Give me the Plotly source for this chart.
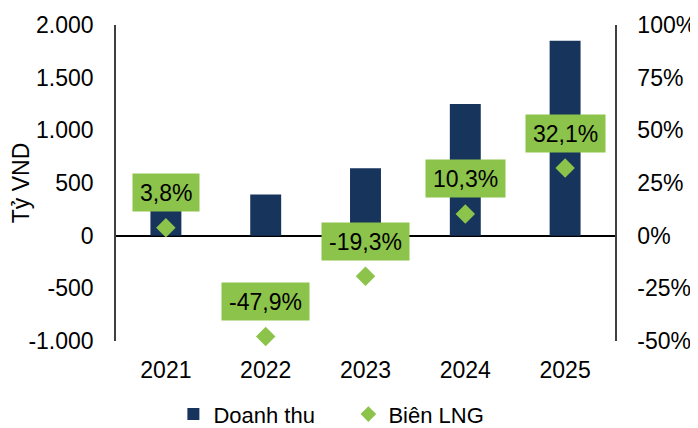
import plotly.graph_objects as go

# data
years = ["2021", "2022", "2023", "2024", "2025"]
revenue = [240, 390, 640, 1250, 1850]          # Tỷ VND
net_margin = [3.8, -47.9, -19.3, 10.3, 32.1]   # %

left_ticks = [-1000, -500, 0, 500, 1000, 1500, 2000]
left_labels = ["-1.000", "-500", "0", "500", "1.000", "1.500", "2.000"]
right_ticks = [-50, -25, 0, 25, 50, 75, 100]
right_labels = ["-50%", "-25%", "0%", "25%", "50%", "75%", "100%"]

NAVY = "#17345C"
GREEN = "#8CC34B"
FONT = "Liberation Sans, Arial, sans-serif"

# category positions on the x axis
pos = list(range(len(years)))

fig = go.Figure()

fig.add_trace(go.Bar(
    x=pos, y=revenue, name="Doanh thu",
    marker=dict(color=NAVY, line=dict(width=0)),
    width=0.31,
))

fig.add_trace(go.Scatter(
    x=pos, y=net_margin, name="Biên LNG", yaxis="y2",
    mode="markers", cliponaxis=False,
    marker=dict(symbol="diamond", size=15, color=GREEN),
))

# green label boxes above the diamonds
for p, v in zip(pos, net_margin):
    txt = f"{v:.1f}%".replace(".", ",")
    fig.add_annotation(
        x=p, y=v, xref="x", yref="y2",
        text=txt, showarrow=False,
        yshift=35,
        bgcolor=GREEN, borderpad=7, height=23,
        font=dict(size=23, color="black", family=FONT),
    )

# y axis title
fig.add_annotation(
    x=-0.19, y=0.5, xref="paper", yref="paper",
    xanchor="center", yanchor="middle",
    text="Tỷ VND", textangle=-90, showarrow=False,
    font=dict(size=23, color="black", family=FONT),
)

# page body has an 8px margin, so the figure is 8px smaller each way
fig.update_layout(
    width=690, height=420,
    margin=dict(l=108, r=83, t=17, b=87, autoexpand=False),
    plot_bgcolor="white", paper_bgcolor="white",
    font=dict(family=FONT, size=23, color="black"),
    showlegend=True,
    legend=dict(
        orientation="h", x=0.115, xanchor="left", y=-0.232, yanchor="middle",
        font=dict(size=22), itemsizing="constant",
        entrywidth=130, entrywidthmode="pixels",
        bgcolor="rgba(0,0,0,0)",
    ),
    xaxis=dict(
        range=[-0.5, 4.5], tickvals=pos, ticktext=years,
        showgrid=False, showline=False, zeroline=False, ticks="",
        ticklabelstandoff=13,
    ),
    yaxis=dict(
        range=[-1000, 2000], tickvals=left_ticks, ticktext=left_labels,
        showgrid=False, showline=True, linecolor="#404040", linewidth=1.5,
        zeroline=True, zerolinecolor="black", zerolinewidth=1.5,
        ticks="", ticklabelstandoff=16,
    ),
    yaxis2=dict(
        range=[-50, 100], tickvals=right_ticks, ticktext=right_labels,
        overlaying="y", side="right",
        showgrid=False, showline=True, linecolor="#404040", linewidth=1.5,
        zeroline=False, ticks="", ticklabelstandoff=16,
    ),
)

fig.write_html("out.html")
